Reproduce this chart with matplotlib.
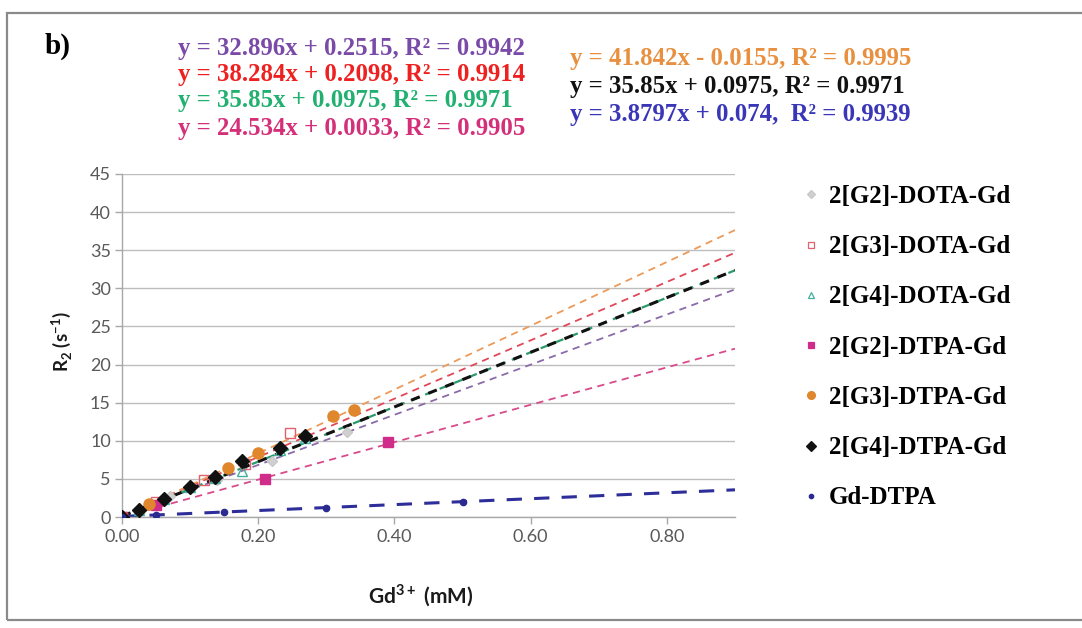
import matplotlib
matplotlib.use("Agg")
import matplotlib.pyplot as plt
from matplotlib.lines import Line2D
from matplotlib.patches import Rectangle
import numpy as np

plt.rcParams["mathtext.fontset"] = "custom"
plt.rcParams["mathtext.bf"] = "Lato:bold"
plt.rcParams["mathtext.rm"] = "Lato"

# ---- data: Gd3+ concentration (mM) vs transverse relaxation rate R2 (s^-1)
series_names = ["2[G2]-DOTA-Gd", "2[G3]-DOTA-Gd", "2[G4]-DOTA-Gd",
                "2[G2]-DTPA-Gd", "2[G3]-DTPA-Gd", "2[G4]-DTPA-Gd", "Gd-DTPA"]

g2_dota_x = [0.0, 0.07, 0.14, 0.22, 0.33]
g2_dota_y = [0.0, 2.7, 4.9, 7.4, 11.1]

g3_dota_x = [0.0, 0.05, 0.12, 0.18, 0.247]
g3_dota_y = [0.0, 2.0, 4.8, 7.0, 11.0]

g4_dota_x = [0.0, 0.025, 0.061, 0.10, 0.137, 0.176, 0.232, 0.268]
g4_dota_y = [0.0, 0.9, 2.4, 4.0, 5.1, 6.1, 8.8, 10.4]

g2_dtpa_x = [0.0, 0.05, 0.21, 0.39]
g2_dtpa_y = [0.0, 1.6, 5.0, 9.9]

g3_dtpa_x = [0.0, 0.04, 0.155, 0.20, 0.31, 0.34]
g3_dtpa_y = [0.0, 1.7, 6.4, 8.4, 13.2, 14.0]

g4_dtpa_x = [0.0, 0.025, 0.061, 0.10, 0.137, 0.176, 0.232, 0.268]
g4_dtpa_y = [0.0, 0.9, 2.4, 4.0, 5.2, 7.3, 9.0, 10.6]

gd_dtpa_x = [0.0, 0.05, 0.15, 0.30, 0.50]
gd_dtpa_y = [0.0, 0.3, 0.65, 1.2, 2.0]

# linear trendlines: slope, intercept, R^2
fit_slope = [32.896, 38.284, 35.85, 24.534, 41.842, 35.85, 3.8797]
fit_icept = [0.2515, 0.2098, 0.0975, 0.0033, -0.0155, 0.0975, 0.074]
fit_r2 = [0.9942, 0.9914, 0.9971, 0.9905, 0.9995, 0.9971, 0.9939]

x_ticks = [0.0, 0.2, 0.4, 0.6, 0.8]
y_ticks = [0, 5, 10, 15, 20, 25, 30, 35, 40, 45]

# ---- styles
eq_colors = ["#7a4aa8", "#ee2020", "#22b070", "#d4307a", "#e89040", "#111111", "#3a36b8"]
line_colors = ["#8a6aa8", "#e04858", "#2a9a6a", "#d84a8a", "#ec9a5a", "#111111", "#2e2e9a"]
line_widths = [1.3, 1.3, 1.6, 1.3, 1.3, 2.2, 2.2]
line_dashes = [(4, 3), (4, 3), (4, 3), (4, 3), (4, 3), (3, 3), (5, 4)]

xs = [g2_dota_x, g3_dota_x, g4_dota_x, g2_dtpa_x, g3_dtpa_x, g4_dtpa_x, gd_dtpa_x]
ys = [g2_dota_y, g3_dota_y, g4_dota_y, g2_dtpa_y, g3_dtpa_y, g4_dtpa_y, gd_dtpa_y]
markers = ["D", "s", "^", "s", "o", "D", "o"]
m_face = ["#d0d0d0", "none", "none", "#d02c8a", "#e0862c", "#111111", "#2a2a90"]
m_edge = ["#c8c8c8", "#e06070", "#40b0a0", "#d02c8a", "#e0862c", "#111111", "#2a2a90"]
m_size = [5.5, 7, 7, 6.5, 8, 7, 4.5]

W, H = 1082, 628
fig = plt.figure(figsize=(W / 100, H / 100), dpi=100)
fig.patch.set_facecolor("white")

# outer chart-area frame
fig.patches.append(Rectangle((7 / W, 1 - 620 / H), (W + 10) / W, (620 - 13) / H,
                             transform=fig.transFigure, fill=False,
                             edgecolor="#8a8a8a", linewidth=1.6, zorder=0))

ax = fig.add_axes([122 / W, 1 - 517 / H, (735 - 122) / W, (517 - 174) / H])
ax.set_xlim(0, 0.9)
ax.set_ylim(0, 45)

# trendlines
xx = np.array([0.0, 0.9])
order = [0, 1, 3, 4, 2, 5, 6]
for i in order:
    ax.plot(xx, fit_slope[i] * xx + fit_icept[i], color=line_colors[i],
            lw=line_widths[i], dashes=line_dashes[i], zorder=2)

# data points
handles = []
for i in range(7):
    ax.plot(xs[i], ys[i], linestyle="none", marker=markers[i], ms=m_size[i],
            mfc=m_face[i], mec=m_edge[i], mew=1.0, zorder=3)
    handles.append(Line2D([], [], linestyle="none", marker=markers[i],
                          ms=m_size[i] * 0.7, mfc=m_face[i], mec=m_edge[i],
                          mew=0.9, label=series_names[i]))

# axes styling
ax.set_xticks(x_ticks)
ax.set_yticks(y_ticks)
ax.set_xticklabels([f"{v:.2f}" for v in x_ticks])
ax.set_yticklabels([str(v) for v in y_ticks])
ax.yaxis.grid(True, color="#bdbdbd", lw=1.0)
ax.set_axisbelow(True)
for s in ["top", "right"]:
    ax.spines[s].set_visible(False)
for s in ["left", "bottom"]:
    ax.spines[s].set_color("#a8a8a8")
    ax.spines[s].set_linewidth(1.0)
ax.tick_params(axis="both", colors="#a8a8a8", length=5, width=1.0,
               labelcolor="#595959", labelsize=13)
for lab in ax.get_xticklabels() + ax.get_yticklabels():
    lab.set_family("Lato")
ax.tick_params(axis="x", pad=4)
ax.tick_params(axis="y", pad=3)

fig.text(62 / W, 1 - 342 / H, r"R$_\mathbf{2}$ (s$^{\mathbf{-1}}$)", rotation=90,
         ha="center", va="center", fontsize=13.5, fontweight="bold",
         family="Lato", color="#1a1a1a")
fig.text(421 / W, 1 - 596 / H, r"Gd$^{\mathbf{3+}}$ (mM)", ha="center", va="center",
         fontsize=15, fontweight="bold", family="Lato", color="#1a1a1a")

# panel tag
fig.text(45 / W, 1 - 46 / H, "b)", ha="left", va="center", fontsize=21,
         fontweight="bold", family="Liberation Serif")

# trendline equations
def eq_text(k):
    sign = "+" if fit_icept[k] >= 0 else "-"
    return f"y = {fit_slope[k]}x {sign} {abs(fit_icept[k])}, R² = {fit_r2[k]}"

left_rows = [0, 1, 2, 3]
left_y = [48, 75, 101, 128]
for k, yy in zip(left_rows, left_y):
    fig.text(178 / W, 1 - yy / H, eq_text(k), ha="left", va="center",
             fontsize=17.8, fontweight="bold", family="Liberation Serif",
             color=eq_colors[k])
right_rows = [4, 5, 6]
right_y = [58, 87, 115]
for k, yy in zip(right_rows, right_y):
    txt = eq_text(k)
    if k == 6:
        txt = txt.replace(", R²", ",  R²")
    fig.text(570 / W, 1 - yy / H, txt, ha="left", va="center",
             fontsize=17.8, fontweight="bold", family="Liberation Serif",
             color=eq_colors[k])

leg = fig.legend(handles=handles, loc="upper left",
                 bbox_to_anchor=(795 / W, 1 - 175 / H), frameon=False,
                 prop={"family": "Liberation Serif", "weight": "bold", "size": 18},
                 labelspacing=1.09, handlelength=0.5, handletextpad=0.45,
                 borderaxespad=0)

fig.savefig("out.png", dpi=100, facecolor="white")
